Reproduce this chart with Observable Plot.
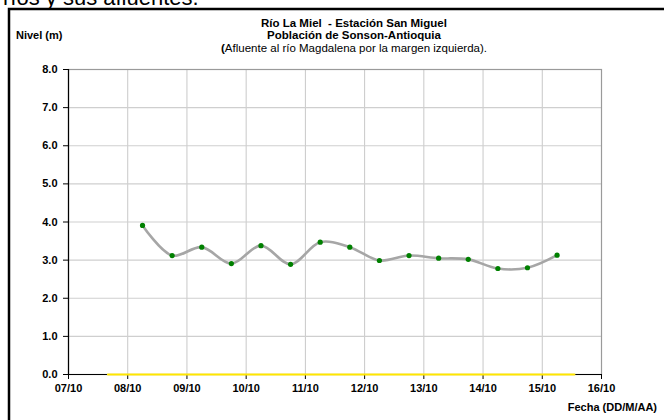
<!DOCTYPE html>
<html>
<head>
<meta charset="utf-8">
<script src="https://cdn.jsdelivr.net/npm/d3@7"></script>
<script src="https://cdn.jsdelivr.net/npm/@observablehq/plot@0.6"></script>
<style>
  html, body { margin: 0; padding: 0; background: #fff; overflow: hidden; }
  #chart { position: relative; width: 664px; height: 420px; overflow: hidden; }
</style>
</head>
<body>
<div id="chart"></div>
<script>
// ---- data ----
const titleLines = ["Río La Miel  - Estación San Miguel", "Población de Sonson-Antioquia", "(Afluente al río Magdalena por la margen izquierda)."];
const topText = "ríos y sus afluentes.";
const yLabel = "Nivel (m)";
const xLabel = "Fecha (DD/M/AA)";
// measurement times (day of October, hour)
const days  = [8, 8, 9, 9, 10, 10, 11, 11, 12, 12, 13, 13, 14, 14, 15];
const hours = [6, 18, 6, 18, 6, 18, 6, 18, 6, 18, 6, 18, 6, 18, 6];
const levels = [3.91, 3.12, 3.34, 2.91, 3.38, 2.89, 3.47, 3.34, 2.99, 3.12, 3.05, 3.02, 2.78, 2.80, 3.13];
// yellow reference line at zero
const refDays = [7, 15];
const refHours = [16, 13];
const refValues = [0, 0];
const yTicks = [0, 1, 2, 3, 4, 5, 6, 7, 8];
const xTickDays = [7, 8, 9, 10, 11, 12, 13, 14, 15, 16];

const YEAR = 2011, MONTH = 9;
const data = days.map((d, i) => ({date: new Date(Date.UTC(YEAR, MONTH, d, hours[i])), nivel: levels[i]}));
const ref = refDays.map((d, i) => ({date: new Date(Date.UTC(YEAR, MONTH, d, refHours[i])), nivel: refValues[i]}));
const xTicks = xTickDays.map(d => new Date(Date.UTC(YEAR, MONTH, d)));

const font = "'Liberation Sans', Arial, sans-serif";

const plot = Plot.plot({
  width: 664,
  height: 420,
  marginLeft: 68,
  marginRight: 63,
  marginTop: 69,
  marginBottom: 46,
  style: {fontFamily: font, fontSize: "11px", fontWeight: "bold", color: "#000", background: "transparent", overflow: "hidden"},
  x: {type: "utc", domain: [xTicks[0], xTicks[xTicks.length - 1]], ticks: xTicks, tickFormat: d3.utcFormat("%d/%m"), label: null},
  y: {domain: [0, 8], ticks: yTicks, tickFormat: d => d.toFixed(1), label: null},
  marks: [
    Plot.gridX(xTicks, {stroke: "#c8c8c8", strokeOpacity: 1, strokeWidth: 1}),
    Plot.gridY(yTicks, {stroke: "#cfcfcf", strokeOpacity: 1, strokeWidth: 1.2}),
    Plot.frame({stroke: "#9a9a9a", strokeWidth: 1.2}),
    Plot.axisX(xTicks, {tickSize: 5, tickPadding: 5, tickFormat: d3.utcFormat("%d/%m"), fontWeight: "bold", fontSize: 11, label: null}),
    Plot.axisY(yTicks, {tickSize: 5, tickPadding: 6, tickFormat: d => d.toFixed(1), fontWeight: "bold", fontSize: 11, label: null}),
    Plot.ruleX([xTicks[0]], {stroke: "#000", strokeWidth: 1.2}),
    Plot.ruleY([0], {stroke: "#000", strokeWidth: 1.2}),
    Plot.line(ref, {x: "date", y: "nivel", stroke: "#ffe600", strokeWidth: 2.2}),
    Plot.line(data, {x: "date", y: "nivel", curve: "catmull-rom", stroke: "#a6a6a6", strokeWidth: 2.6}),
    Plot.dot(data, {x: "date", y: "nivel", fill: "#008000", r: 2.6, stroke: null})
  ]
});

const svg = d3.select(plot);
// outer chart box: only its top and left edges are inside the picture
svg.insert("path", ":first-child")
  .attr("d", "M9,420V9H664")
  .attr("fill", "none").attr("stroke", "#000").attr("stroke-width", 2.5);
// cut-off heading text from the page above the chart
svg.append("text").attr("x", 3).attr("y", 5).attr("text-anchor", "start")
  .attr("font-family", font).attr("font-size", 22).attr("font-weight", "normal").attr("fill", "#000")
  .text(topText);
// titles
const tY = [26.5, 39, 51.5];
titleLines.forEach((t, i) => {
  const el = svg.append("text").attr("x", 354).attr("y", tY[i]).attr("text-anchor", "middle")
    .attr("font-family", font).attr("font-size", 11.5).attr("fill", "#000");
  if (i < 2) {
    el.attr("font-weight", "bold").text(t);
  } else {
    el.append("tspan").attr("font-weight", "bold").text(t[0]);
    el.append("tspan").attr("font-weight", "normal").text(t.slice(1));
  }
});
svg.append("text").attr("x", 16).attr("y", 39).attr("text-anchor", "start")
  .attr("font-family", font).attr("font-size", 11).attr("font-weight", "bold").attr("fill", "#000")
  .text(yLabel);
svg.append("text").attr("x", 657).attr("y", 411).attr("text-anchor", "end")
  .attr("font-family", font).attr("font-size", 11).attr("font-weight", "bold").attr("fill", "#000")
  .text(xLabel);

document.getElementById("chart").appendChild(plot);
</script>
</body>
</html>
